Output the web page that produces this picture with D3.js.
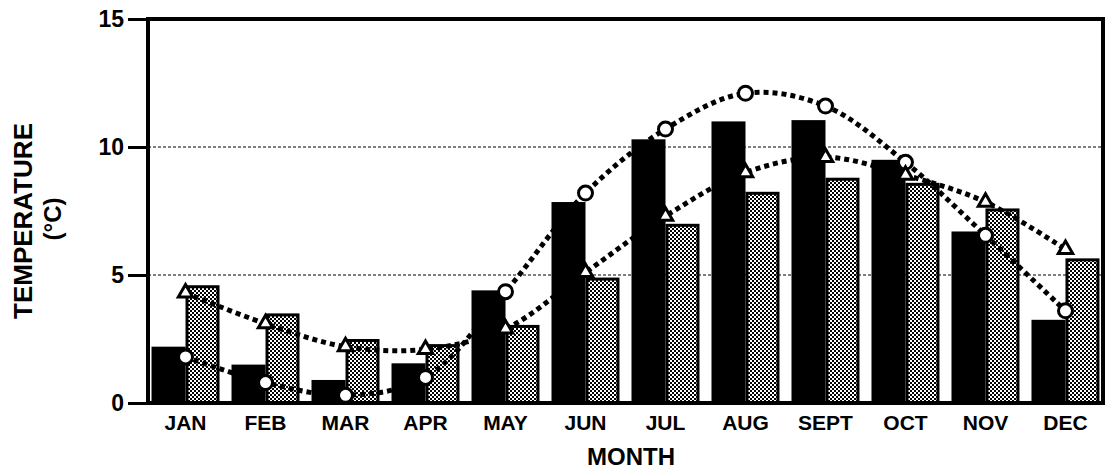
<!DOCTYPE html>
<html>
<head>
<meta charset="utf-8">
<script src="https://cdn.jsdelivr.net/npm/d3@7"></script>
<style>
  body { margin: 0; background: #fff; }
  svg { display: block; font-family: "Liberation Sans", Arial, Helvetica, sans-serif; }
</style>
</head>
<body>
<svg id="chart" width="1113" height="472"></svg>
<script>
// month labels along the x axis
var months = ["JAN", "FEB", "MAR", "APR", "MAY", "JUN", "JUL", "AUG", "SEPT", "OCT", "NOV", "DEC"];
// solid black bars
var blackBars = [2.2, 1.5, 0.9, 1.55, 4.4, 7.85, 10.3, 11.0, 11.05, 9.5, 6.7, 3.25];
// stippled (grey) bars
var greyBars = [4.6, 3.5, 2.5, 2.3, 3.05, 4.9, 7.0, 8.25, 8.8, 8.6, 7.6, 5.65];
// open circles on dotted line
var circleVals = [1.8, 0.8, 0.3, 1.0, 4.35, 8.2, 10.7, 12.1, 11.6, 9.4, 6.55, 3.6];
// open triangles on dotted line
var triangleVals = [4.3, 3.1, 2.2, 2.1, 2.9, 5.1, 7.3, 9.0, 9.6, 8.9, 7.85, 6.0];
var yTicks = [0, 5, 10, 15];

var plot = { left: 148, right: 1103, top: 19, bottom: 403 };

var svg = d3.select("#chart");

// stipple pattern for the grey bars
var defs = svg.append("defs");
var pat = defs.append("pattern")
  .attr("id", "stipple")
  .attr("patternUnits", "userSpaceOnUse")
  .attr("width", 4)
  .attr("height", 4);
pat.append("rect").attr("width", 4).attr("height", 4).attr("fill", "#fff");
pat.append("rect").attr("x", 0).attr("y", 0).attr("width", 2).attr("height", 2).attr("fill", "#000");
pat.append("rect").attr("x", 2).attr("y", 2).attr("width", 2).attr("height", 2).attr("fill", "#000");

var x = d3.scaleBand()
  .domain(months)
  .range([plot.left, plot.right])
  .paddingInner(0.15)
  .paddingOuter(0.044);

var xSub = d3.scaleBand()
  .domain(["black", "grey"])
  .range([0, x.bandwidth()]);

var y = d3.scaleLinear()
  .domain([0, 15])
  .range([plot.bottom, plot.top]);

// dotted grid lines at 5 and 10
svg.append("g")
  .selectAll("line")
  .data([5, 10])
  .enter()
  .append("line")
  .attr("x1", plot.left)
  .attr("x2", plot.right)
  .attr("y1", function(d) { return y(d); })
  .attr("y2", function(d) { return y(d); })
  .style("stroke", "#000")
  .style("stroke-width", 1)
  .style("stroke-dasharray", "3,2");

// bars
var rows = months.map(function(m, i) {
  return { month: m, black: blackBars[i], grey: greyBars[i], circle: circleVals[i], triangle: triangleVals[i] };
});

var bars = svg.append("g");
bars.selectAll("rect.black")
  .data(rows)
  .enter()
  .append("rect")
  .attr("class", "black")
  .attr("x", function(d) { return x(d.month) + xSub("black"); })
  .attr("y", function(d) { return y(d.black); })
  .attr("width", xSub.bandwidth())
  .attr("height", function(d) { return y(0) - y(d.black); })
  .attr("fill", "#000");

bars.selectAll("rect.grey")
  .data(rows)
  .enter()
  .append("rect")
  .attr("class", "grey")
  .attr("x", function(d) { return x(d.month) + xSub("grey") + 1.5; })
  .attr("y", function(d) { return y(d.grey) + 1.5; })
  .attr("width", xSub.bandwidth() - 3)
  .attr("height", function(d) { return y(0) - y(d.grey) - 1.5; })
  .attr("fill", "url(#stipple)")
  .style("stroke", "#000")
  .style("stroke-width", 3);

// dotted lines
var cx = function(d) { return x(d.month) + x.bandwidth() / 2; };

var circleLine = d3.line()
  .x(cx)
  .y(function(d) { return y(d.circle); })
  .curve(d3.curveCatmullRom.alpha(0.5));

var triangleLine = d3.line()
  .x(cx)
  .y(function(d) { return y(d.triangle); })
  .curve(d3.curveCatmullRom.alpha(0.5));

svg.append("path")
  .datum(rows)
  .attr("d", triangleLine)
  .attr("fill", "none")
  .style("stroke", "#000")
  .style("stroke-width", 5)
  .style("stroke-dasharray", "5,4");

svg.append("path")
  .datum(rows)
  .attr("d", circleLine)
  .attr("fill", "none")
  .style("stroke", "#000")
  .style("stroke-width", 5)
  .style("stroke-dasharray", "5,4");

// markers
svg.append("g")
  .selectAll("circle")
  .data(rows)
  .enter()
  .append("circle")
  .attr("cx", cx)
  .attr("cy", function(d) { return y(d.circle); })
  .attr("r", 7)
  .attr("fill", "#fff")
  .style("stroke", "#000")
  .style("stroke-width", 3);

svg.append("g")
  .selectAll("path")
  .data(rows)
  .enter()
  .append("path")
  .attr("d", d3.symbol().type(d3.symbolTriangle).size(90))
  .attr("transform", function(d) { return "translate(" + cx(d) + "," + y(d.triangle) + ")"; })
  .attr("fill", "#fff")
  .style("stroke", "#000")
  .style("stroke-width", 3);

// axes
var yAxis = svg.append("g")
  .attr("transform", "translate(" + plot.left + ",0)")
  .call(d3.axisLeft(y).tickValues(yTicks).tickSize(20).tickPadding(4).tickSizeOuter(0));
yAxis.select(".domain").remove();
yAxis.selectAll(".tick line").style("stroke-width", 3);
yAxis.selectAll("text")
  .style("font-size", "23px")
  .style("font-weight", "bold")
  .attr("fill", "#000");

var xAxis = svg.append("g")
  .attr("transform", "translate(0," + plot.bottom + ")")
  .call(d3.axisBottom(x).tickSize(0).tickPadding(12));
xAxis.select(".domain").remove();
xAxis.selectAll("text")
  .style("font-size", "21px")
  .style("font-weight", "bold")
  .attr("fill", "#000");

// frame
svg.append("rect")
  .attr("x", plot.left)
  .attr("y", plot.top)
  .attr("width", plot.right - plot.left)
  .attr("height", plot.bottom - plot.top)
  .attr("fill", "none")
  .style("stroke", "#000")
  .style("stroke-width", 4);

// axis titles
svg.append("text")
  .attr("transform", "translate(32,221) rotate(-90)")
  .attr("text-anchor", "middle")
  .style("font-size", "26px")
  .style("font-weight", "bold")
  .text("TEMPERATURE");

svg.append("text")
  .attr("transform", "translate(61,219) rotate(-90)")
  .attr("text-anchor", "middle")
  .style("font-size", "24px")
  .style("font-weight", "bold")
  .text("(°C)");

svg.append("text")
  .attr("x", 631)
  .attr("y", 465)
  .attr("text-anchor", "middle")
  .style("font-size", "24px")
  .style("font-weight", "bold")
  .text("MONTH");
</script>
</body>
</html>
